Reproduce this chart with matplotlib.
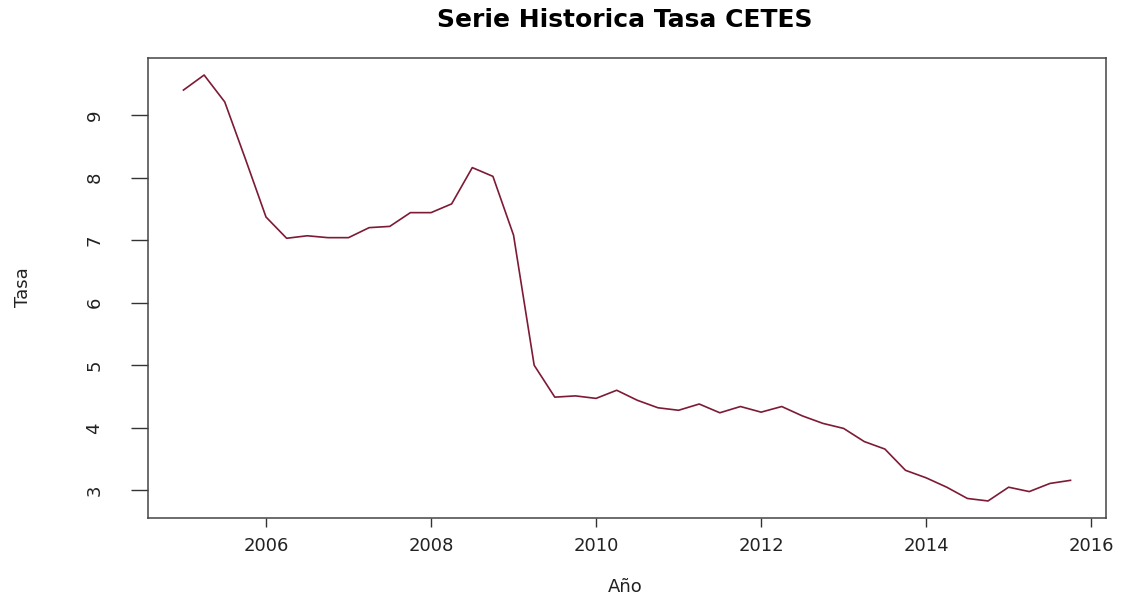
import numpy as np
import matplotlib
matplotlib.use("Agg")
import matplotlib.pyplot as plt

# datos trimestrales 2005 T1 - 2015 T4
inicio = 2005.0
frecuencia = 4
tasa = [9.40, 9.64, 9.21, 8.30, 7.37, 7.03, 7.07, 7.04,
        7.04, 7.20, 7.22, 7.44, 7.44, 7.58, 8.16, 8.02,
        7.08, 5.00, 4.49, 4.51, 4.47, 4.60, 4.44, 4.32,
        4.28, 4.38, 4.24, 4.34, 4.25, 4.34, 4.19, 4.07,
        3.99, 3.78, 3.66, 3.32, 3.20, 3.05, 2.87, 2.83,
        3.05, 2.98, 3.11, 3.16]
anios = inicio + np.arange(len(tasa)) / frecuencia

plt.rcParams['font.family'] = ['DejaVu Sans']

fig = plt.figure(figsize=(11.26, 5.96), dpi=100)
ax = fig.add_axes([148/1126, 1-518/596, (1106-148)/1126, (518-58)/596])

ax.plot(anios, tasa, color='#7d1a35', lw=1.2)

# limites estilo R (4% extra)
def rango(v):
    lo, hi = np.min(v), np.max(v)
    d = (hi - lo) * 0.04
    return lo - d, hi + d
ax.set_xlim(*rango(anios))
ax.set_ylim(*rango(tasa))

ax.set_xticks([2006, 2008, 2010, 2012, 2014, 2016])
ax.set_yticks([3, 4, 5, 6, 7, 8, 9])
ax.set_yticklabels(['3', '4', '5', '6', '7', '8', '9'], rotation=90, va='center')
ax.tick_params(axis='both', labelsize=13, width=1, color='#333333',
               labelcolor='#222222')
ax.tick_params(axis='x', length=6.5, pad=7)
ax.tick_params(axis='y', length=12, pad=20)
for s in ax.spines.values():
    s.set_color('#444444')
    s.set_linewidth(1.1)

fig.text(625/1126, 1-20/596, 'Serie Historica Tasa CETES', ha='center', va='center',
         fontsize=18, fontweight='bold')
fig.text(625/1126, 1-587/596, 'Año', ha='center', va='center', fontsize=13, color='#222222')
fig.text(23/1126, 1-287/596, 'Tasa', ha='center', va='center', fontsize=13,
         rotation=90, color='#222222')

fig.savefig('out.png', dpi=100)
